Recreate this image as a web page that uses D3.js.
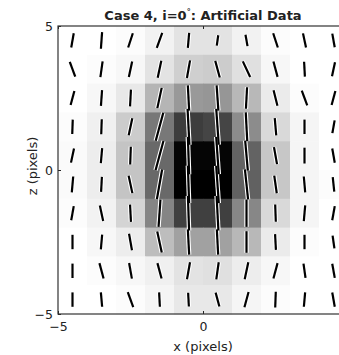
<!DOCTYPE html>
<html>
<head>
<meta charset="utf-8">
<script src="https://cdn.jsdelivr.net/npm/d3@7"></script>
<style>
  html, body { margin: 0; padding: 0; background: #fff; }
  svg { display: block; }
  text { font-family: "DejaVu Sans", "Open Sans", sans-serif; fill: #222; }
</style>
</head>
<body>
<svg id="chart" width="339" height="355"></svg>
<script>
// Pixel grid (cell centres) in detector pixels
const xCenters = [-4.5, -3.5, -2.5, -1.5, -0.5, 0.5, 1.5, 2.5, 3.5, 4.5];
const zCenters = [4.5, 3.5, 2.5, 1.5, 0.5, -0.5, -1.5, -2.5, -3.5, -4.5];
const tickValues = [-5, 0, 5];

// Normalised total intensity per pixel (rows top to bottom, columns left to right)
const intensity = [
  [0.00, 0.00, 0.01, 0.05, 0.11, 0.11, 0.05, 0.01, 0.00, 0.00],
  [0.00, 0.01, 0.03, 0.11, 0.19, 0.20, 0.12, 0.03, 0.00, 0.00],
  [0.00, 0.03, 0.09, 0.29, 0.40, 0.41, 0.28, 0.08, 0.01, 0.00],
  [0.01, 0.06, 0.20, 0.53, 0.76, 0.73, 0.45, 0.15, 0.04, 0.00],
  [0.02, 0.07, 0.23, 0.59, 0.98, 0.98, 0.61, 0.22, 0.04, 0.00],
  [0.02, 0.07, 0.23, 0.59, 1.00, 1.00, 0.62, 0.22, 0.04, 0.01],
  [0.01, 0.05, 0.17, 0.48, 0.75, 0.75, 0.47, 0.15, 0.04, 0.00],
  [0.00, 0.03, 0.07, 0.26, 0.37, 0.37, 0.28, 0.08, 0.01, 0.00],
  [0.00, 0.01, 0.03, 0.06, 0.11, 0.12, 0.07, 0.03, 0.00, 0.00],
  [0.00, 0.00, 0.01, 0.04, 0.09, 0.09, 0.04, 0.01, 0.00, 0.00]
];

// Polarisation vector length per pixel (in pixel units)
const polLength = [
  [0.50, 0.58, 0.52, 0.55, 0.52, 0.36, 0.40, 0.52, 0.50, 0.48],
  [0.55, 0.55, 0.55, 0.60, 0.62, 0.60, 0.60, 0.55, 0.52, 0.50],
  [0.50, 0.55, 0.58, 0.72, 0.88, 0.88, 0.75, 0.55, 0.55, 0.50],
  [0.50, 0.52, 0.60, 1.00, 1.25, 1.25, 1.00, 0.60, 0.50, 0.45],
  [0.50, 0.52, 0.62, 1.05, 1.30, 1.30, 1.05, 0.60, 0.55, 0.50],
  [0.55, 0.52, 0.62, 1.05, 1.30, 1.30, 1.05, 0.62, 0.55, 0.50],
  [0.50, 0.55, 0.60, 0.95, 1.20, 1.20, 0.95, 0.60, 0.55, 0.50],
  [0.50, 0.52, 0.58, 0.75, 0.88, 0.88, 0.75, 0.55, 0.50, 0.45],
  [0.50, 0.55, 0.55, 0.55, 0.60, 0.60, 0.60, 0.55, 0.50, 0.50],
  [0.50, 0.50, 0.55, 0.50, 0.48, 0.50, 0.55, 0.55, 0.50, 0.50]
];

// Polarisation position angle per pixel (degrees from +z toward +x)
const polAngle = [
  [ 10,   4,  18,  20,   5,   8, -10, -18, -12, -10],
  [-20,   8,  12,  12,  10, -15, -25, -15,  -3,  12],
  [ 15,   4,   3,  12,  -3,  -4,   3, -14, -20,  15],
  [  2,   2,  12,  15,  -3,  -4,  -3,  -5,   0,  10],
  [ 12,   5,   2,  15,  -2,  -4,  -5, -10,   0, -10],
  [  5,   3, -12,  10,  -2,  -4,  -6,  -8,  -5,  -6],
  [ 10, -12,  -3,   4,  -2,  -3,   0,  -2,   5,  10],
  [  0,   5, -10, -12,  -3,  -3,   0,  -3,   0,  -8],
  [  0, -15, -10, -15,  10,   8,  12,  15,  -8, -10],
  [  0,  -5, -20,  -3,  -3, -15,  15,   2,   5, -10]
];

const width = 339;
const svg = d3.select("#chart");

const x = d3.scaleLinear().domain([-5, 5]).range([58, 348]);
const z = d3.scaleLinear().domain([-5, 5]).range([314, 26]);
const gray = d3.scaleLinear().domain([0, 1]).range(["#ffffff", "#000000"]).clamp(true);

// Flatten the grids into one record per pixel
const cells = [];
zCenters.forEach((zc, i) => {
  xCenters.forEach((xc, j) => {
    cells.push({ xc, zc, I: intensity[i][j], L: polLength[i][j], a: polAngle[i][j] });
  });
});

// Intensity image
svg.append("g").selectAll("rect")
  .data(cells)
  .join("rect")
  .attr("x", d => x(d.xc - 0.5))
  .attr("y", d => z(d.zc + 0.5))
  .attr("width", d => x(d.xc + 0.5) - x(d.xc - 0.5) + 0.5)
  .attr("height", d => z(d.zc - 0.5) - z(d.zc + 0.5) + 0.5)
  .attr("fill", d => gray(d.I));

// Polarisation vectors: white casing under a black bar
function ends(d) {
  const r = d.a * Math.PI / 180, h = d.L / 2;
  const dx = h * Math.sin(r), dz = h * Math.cos(r);
  return { x1: x(d.xc - dx), y1: z(d.zc - dz), x2: x(d.xc + dx), y2: z(d.zc + dz) };
}
function drawVectors(cls, color, w) {
  vec.selectAll("line." + cls)
    .data(cells)
    .join("line")
    .attr("class", cls)
    .each(function (d) {
      const e = ends(d);
      d3.select(this).attr("x1", e.x1).attr("y1", e.y1).attr("x2", e.x2).attr("y2", e.y2);
    })
    .attr("stroke", color)
    .attr("stroke-width", w);
}
const vec = svg.append("g");
drawVectors("casing", "#fff", 4.4);
drawVectors("bar", "#000", 2.2);

// Axes with inward ticks
function styleAxis(g) {
  g.select(".domain").remove();
  g.selectAll(".tick line").attr("stroke", "#222");
  g.selectAll(".tick text").attr("font-size", 12.5).attr("fill", "#222")
    .style("font-family", '"DejaVu Sans", "Open Sans", sans-serif');
}
// Only label the x ticks that fall inside the page
const xLabelled = tickValues.filter(v => x(v) + 6 < width);
svg.append("g").attr("transform", "translate(0,314)")
  .call(d3.axisBottom(x).tickValues(tickValues).tickSizeInner(-3).tickSizeOuter(0).tickPadding(8)
    .tickFormat(v => xLabelled.includes(v) ? d3.format("")(v) : ""))
  .call(styleAxis);
svg.append("g").attr("transform", "translate(0,26)")
  .call(d3.axisTop(x).tickValues(tickValues).tickSizeInner(-3).tickSizeOuter(0).tickFormat(""))
  .call(styleAxis);
svg.append("g").attr("transform", "translate(58,0)")
  .call(d3.axisLeft(z).tickValues(tickValues).tickSizeInner(-3).tickSizeOuter(0).tickPadding(5))
  .call(styleAxis);
svg.append("g").attr("transform", "translate(348,0)")
  .call(d3.axisRight(z).tickValues(tickValues).tickSizeInner(-3).tickSizeOuter(0).tickFormat(""))
  .call(styleAxis);

// Box
svg.append("rect")
  .attr("x", x(-5)).attr("y", z(5))
  .attr("width", x(5) - x(-5)).attr("height", z(-5) - z(5))
  .attr("fill", "none").attr("stroke", "#333").attr("stroke-width", 1.2);

// Title and axis labels
const title = svg.append("text")
  .attr("x", x(0)).attr("y", 20)
  .attr("text-anchor", "middle")
  .attr("font-size", 13).attr("font-weight", "bold");
title.append("tspan").text("Case 4, i=0");
title.append("tspan").attr("font-size", 8).attr("dy", -5).text("°");
title.append("tspan").attr("dy", 5).text(": Artificial Data");

svg.append("text")
  .attr("x", x(0)).attr("y", 351)
  .attr("text-anchor", "middle").attr("font-size", 13)
  .text("x (pixels)");

svg.append("text")
  .attr("transform", `translate(37,${z(0) - 4}) rotate(-90)`)
  .attr("text-anchor", "middle").attr("font-size", 13)
  .text("z (pixels)");
</script>
</body>
</html>
